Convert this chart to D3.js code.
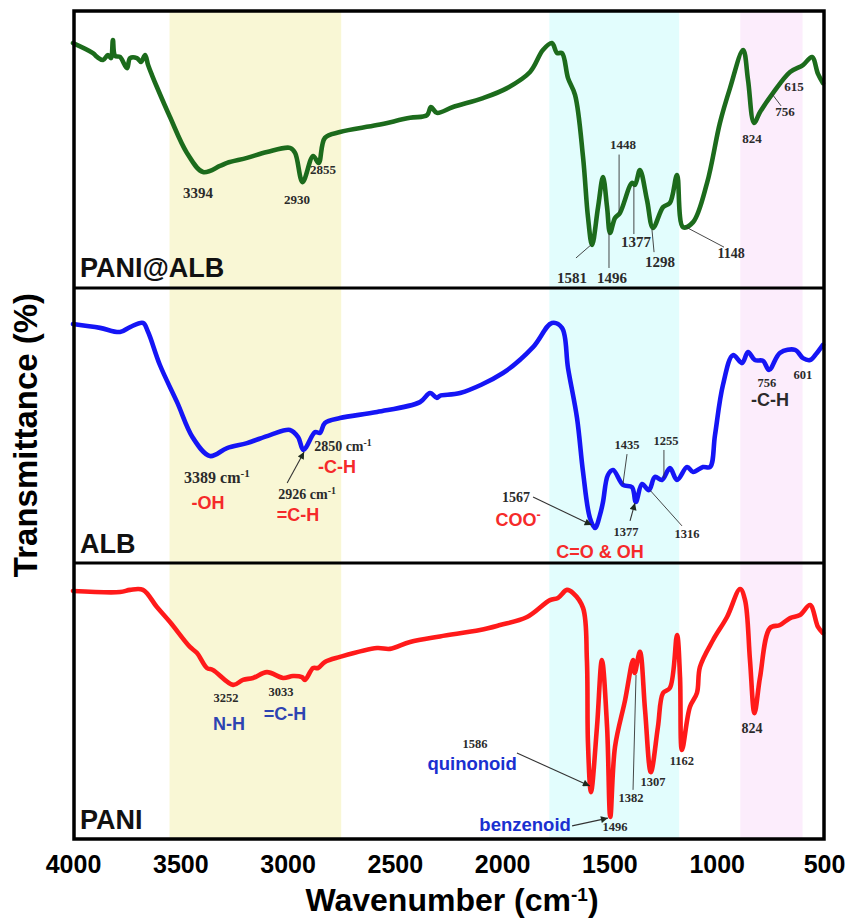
<!DOCTYPE html>
<html>
<head>
<meta charset="utf-8">
<script src="https://cdn.jsdelivr.net/npm/d3@7"></script>
<style>
  body { margin: 0; background: #fff; }
  .sans { font-family: Arial, "Liberation Sans", sans-serif; font-weight: bold; }
  .serif { font-family: "Times New Roman", "Liberation Serif", serif; font-weight: bold; fill: #2b2b2b; }
</style>
</head>
<body>
<div id="chart"></div>
<script>
// ---- data ----
const xTicks = [4000, 3500, 3000, 2500, 2000, 1500, 1000, 500];
const panelNames = ["PANI@ALB", "ALB", "PANI"];
const bandRanges = [[3550, 2750], [1780, 1175], [890, 600]];

// [wavenumber, relative transmittance]
const paniAlbData = [
  [4000, 88.1], [3907, 84.5], [3888, 83.1], [3860, 82.0], [3837, 83.8], [3823, 82.7], [3814, 89.2],
  [3804, 83.5], [3781, 83.1], [3748, 79.1], [3734, 82.7], [3702, 82.7], [3683, 81.3], [3664, 83.8],
  [3650, 80.2], [3632, 76.6], [3609, 72.3], [3548, 61.5], [3469, 48.6], [3394, 41.7], [3315, 43.9],
  [3282, 45.0], [3189, 46.8], [3096, 48.9], [2989, 50.4], [2965, 48.6], [2930, 38.1], [2881, 47.5],
  [2855, 45.0], [2826, 54.0], [2756, 56.1], [2583, 58.6], [2429, 61.2], [2350, 62.2], [2332, 65.1],
  [2304, 63.0], [2229, 65.1], [2089, 68.3], [1977, 71.9], [1870, 77.7], [1810, 85.6], [1768, 88.1],
  [1744, 84.5], [1721, 84.5], [1693, 75.5], [1660, 69.4], [1623, 47.1], [1600, 25.5], [1581, 15.5],
  [1553, 29.1], [1530, 39.9], [1511, 29.1], [1497, 19.8], [1474, 25.2], [1451, 27.0], [1395, 37.8],
  [1381, 37.1], [1358, 42.4], [1325, 31.7], [1297, 21.6], [1250, 29.1], [1218, 30.6], [1185, 40.6],
  [1157, 21.9], [1110, 23.7], [1045, 37.8], [985, 59.4], [938, 71.9], [877, 85.6], [854, 74.8],
  [826, 59.4], [798, 63.3], [738, 70.1], [658, 77.7], [598, 80.2], [556, 83.1], [528, 77.0], [505, 73.7]
];

const albData = [
  [4000, 86.9], [3874, 85.5], [3781, 84.0], [3734, 85.8], [3674, 87.3], [3650, 84.0], [3595, 72.0],
  [3515, 58.5], [3441, 45.5], [3362, 38.9], [3282, 41.8], [3189, 43.6], [3082, 46.5], [2989, 48.4],
  [2951, 45.8], [2926, 41.1], [2872, 47.6], [2849, 47.3], [2826, 50.9], [2756, 52.7], [2583, 54.9],
  [2383, 58.5], [2336, 61.8], [2304, 60.0], [2290, 60.8], [2196, 61.8], [1996, 69.1], [1856, 78.5],
  [1768, 87.3], [1721, 85.5], [1693, 70.9], [1651, 52.7], [1623, 33.1], [1591, 16.4], [1567, 12.7],
  [1544, 17.5], [1530, 22.2], [1507, 32.0], [1483, 33.8], [1437, 28.4], [1395, 27.6], [1377, 22.2],
  [1348, 28.7], [1316, 26.5], [1288, 31.3], [1255, 30.2], [1218, 34.5], [1185, 30.2], [1138, 34.9],
  [1110, 33.1], [1064, 34.9], [1031, 34.9], [1008, 46.5], [971, 64.7], [924, 75.6], [882, 72.7],
  [854, 76.7], [822, 73.8], [784, 73.5], [756, 70.2], [705, 76.4], [635, 77.5], [598, 74.5],
  [565, 73.8], [533, 76.4], [505, 79.3]
];

const paniData = [
  [4000, 89.9], [3781, 89.5], [3734, 90.3], [3674, 90.3], [3609, 84.1], [3548, 78.7], [3455, 69.7],
  [3422, 67.5], [3376, 62.1], [3348, 61.4], [3254, 56.0], [3208, 57.8], [3161, 58.5], [3096, 60.6],
  [3021, 58.5], [2975, 59.2], [2933, 58.8], [2919, 57.8], [2881, 62.1], [2858, 62.1], [2826, 64.3],
  [2756, 66.1], [2583, 69.3], [2523, 69.0], [2429, 71.5], [2290, 73.5], [2103, 75.8], [2010, 77.6],
  [1884, 80.5], [1777, 86.6], [1740, 87.4], [1698, 90.3], [1670, 89.2], [1623, 83.8], [1605, 65.0],
  [1600, 35.0], [1586, 17.3], [1558, 40.8], [1535, 65.0], [1511, 40.8], [1496, 8.3], [1474, 33.6],
  [1427, 50.5], [1390, 65.0], [1382, 60.3], [1358, 67.9], [1334, 46.9], [1307, 24.5], [1274, 40.8],
  [1250, 53.1], [1218, 54.9], [1185, 74.0], [1171, 58.8], [1162, 32.5], [1125, 48.0], [1092, 53.1],
  [1078, 62.5], [1017, 72.2], [952, 80.5], [891, 90.6], [868, 86.6], [845, 65.0], [824, 45.8],
  [798, 58.8], [752, 76.5], [705, 77.6], [658, 80.1], [612, 81.2], [565, 84.8], [528, 76.9], [505, 74.7]
];

// peak labels: text, anchor [wavenumber, value], style key
const paniAlbLabels = [
  ["3394", 3417, 32.4, "n15"], ["2930", 2956, 30.2, "n13"], ["2855", 2835, 41.0, "n13"],
  ["1448", 1437, 50.0, "n13"], ["1581", 1674, 1.8, "n15"], ["1496", 1488, 1.8, "n15"],
  ["1377", 1376, 14.7, "n15"], ["1298", 1264, 7.6, "n15"], ["1148", 933, 10.8, "n14"],
  ["824", 836, 52.2, "n13"], ["756", 682, 61.9, "n13"], ["615", 640, 70.9, "n13"]
];
const albLabels = [
  ["3389|-1", 3329, 29.1, "n16"], ["-OH", 3371, 19.6, "red"], ["2926 |-1", 2909, 23.3, "n14"],
  ["=C-H", 2951, 15.3, "red"], ["2850|-1", 2742, 40.7, "n14"], ["-C-H", 2770, 32.7, "red"],
  ["1567", 1935, 22.2, "n14"], ["COO^", 1926, 13.5, "red"], ["1435", 1418, 41.5, "n12"],
  ["1255", 1236, 42.9, "n12"], ["1377", 1423, 9.8, "n12"], ["1316", 1138, 9.1, "n12"],
  ["C=O & OH", 1544, 1.8, "red"], ["756", 766, 64.0, "n12"], ["601", 598, 66.9, "n12"],
  ["-C-H", 752, 57.1, "dark"]
];
const paniLabels = [
  ["3252", 3287, 49.8, "n12"], ["3033", 3031, 52.0, "n12"], ["N-H", 3273, 39.7, "blue"],
  ["=C-H", 3012, 43.3, "blue"], ["1586", 2127, 33.2, "n12"], ["quinonoid", 2140, 25.3, "blue2"],
  ["benzenoid", 1893, 3.2, "blue2"], ["1496", 1474, 3.2, "n12"], ["1382", 1399, 13.7, "n12"],
  ["1307", 1297, 19.5, "n12"], ["1162", 1162, 27.1, "n12"], ["824", 836, 38.6, "n14"]
];

// leader lines: [wn1, v1, wn2, v2, arrow]
const paniAlbLeaders = [
  [1455, 48.0, 1455, 27.0, false], [1656, 10.8, 1586, 15.5, false], [1502, 7.2, 1502, 19.8, false],
  [1386, 19.4, 1386, 36.7, false], [1292, 12.9, 1302, 21.2, false], [966, 14.7, 1143, 21.9, false],
  [700, 65.5, 742, 69.8, false]
];
const albLeaders = [
  [3002, 29.1, 2923, 40.4, true], [1856, 24.0, 1583, 13.8, true], [1418, 39.6, 1437, 28.7, false],
  [1246, 41.1, 1246, 30.9, false], [1404, 15.3, 1381, 21.8, true], [1162, 13.5, 1311, 26.5, false]
];
const paniLeaders = [
  [1931, 31.4, 1591, 19.5, true], [1674, 5.1, 1507, 7.9, true], [1390, 18.1, 1376, 59.6, false]
];

// ---- layout ----
const W = 846, H = 922;
const left = 73, right = 824;
const panelEdges = [10, 288, 563, 840];
const lineColors = ["#1c6b1c", "#1515f5", "#ff1a1a"];
const labelStyles = {
  n12: { cls: "serif", size: 12.5 }, n13: { cls: "serif", size: 13 }, n14: { cls: "serif", size: 14 },
  n15: { cls: "serif", size: 15 }, n16: { cls: "serif", size: 16 },
  red: { cls: "sans", size: 18, fill: "#f52a2a" }, blue: { cls: "sans", size: 18, fill: "#2e44b2" },
  blue2: { cls: "sans", size: 18.5, fill: "#1a30d0" }, dark: { cls: "sans", size: 18, fill: "#2b2b2b" }
};

const svg = d3.select("#chart").append("svg")
  .attr("width", W).attr("height", H);

const x = d3.scaleLinear().domain([4000, 500]).range([left, right]);

const defs = svg.append("defs");
defs.append("marker").attr("id", "arr")
  .attr("viewBox", "0 0 10 10").attr("refX", 10).attr("refY", 5)
  .attr("markerWidth", 9).attr("markerHeight", 7).attr("orient", "auto")
  .attr("markerUnits", "userSpaceOnUse")
  .append("path").attr("d", "M0,0L10,5L0,10z").attr("fill", "#1f2a1f");

// shaded bands across all panels
const bandColors = ["#f9f7d5", "#e2fdfd", "#fcedfc"];
svg.selectAll(".band").data(bandRanges).enter().append("rect")
  .attr("x", d => x(d[0]))
  .attr("width", d => x(d[1]) - x(d[0]))
  .attr("y", panelEdges[0]).attr("height", panelEdges[3] - panelEdges[0])
  .attr("fill", (d, i) => bandColors[i]);

const panels = [
  { data: paniAlbData, labels: paniAlbLabels, leaders: paniAlbLeaders },
  { data: albData, labels: albLabels, leaders: albLeaders },
  { data: paniData, labels: paniLabels, leaders: paniLeaders }
];

panels.forEach((p, i) => {
  const y = d3.scaleLinear().domain([0, 100]).range([panelEdges[i + 1], panelEdges[i]]);
  const g = svg.append("g");

  const line = d3.line()
    .x(d => x(d[0])).y(d => y(d[1]))
    .curve(d3.curveCatmullRom.alpha(0.5));

  g.append("path").datum(p.data)
    .attr("d", line)
    .attr("fill", "none")
    .attr("stroke", lineColors[i])
    .attr("stroke-width", 4.6)
    .attr("stroke-linejoin", "round")
    .attr("stroke-linecap", "round");

  // leaders
  g.selectAll(".ld").data(p.leaders).enter().append("line")
    .attr("x1", d => x(d[0])).attr("y1", d => y(d[1]))
    .attr("x2", d => x(d[2])).attr("y2", d => y(d[3]))
    .attr("stroke", "#333").attr("stroke-width", d => d[4] ? 1.1 : 0.9)
    .attr("marker-end", d => d[4] ? "url(#arr)" : null);

  // labels
  p.labels.forEach(l => {
    const st = labelStyles[l[3]];
    const t = g.append("text")
      .attr("class", st.cls)
      .attr("x", x(l[1])).attr("y", y(l[2]))
      .attr("text-anchor", "middle")
      .style("font-size", st.size + "px");
    if (st.fill) t.style("fill", st.fill);
    if (l[0].includes("|")) {
      const parts = l[0].split("|");
      t.append("tspan").text(parts[0] + " cm");
      t.append("tspan").attr("baseline-shift", "super").style("font-size", (st.size * 0.7) + "px").text(parts[1]);
    } else if (l[0].endsWith("^")) {
      t.append("tspan").text(l[0].slice(0, -1));
      t.append("tspan").attr("baseline-shift", "super").style("font-size", (st.size * 0.7) + "px").text("-");
    } else {
      t.text(l[0]);
    }
  });

  // panel name
  svg.append("text").attr("class", "sans")
    .attr("x", left + 7).attr("y", y(3.8))
    .style("font-size", "27px").style("fill", "#111")
    .text(panelNames[i]);
});

// frame
svg.append("rect")
  .attr("x", left + 1).attr("y", panelEdges[0] + 1)
  .attr("width", right - left - 1).attr("height", panelEdges[3] - panelEdges[0] - 2)
  .attr("fill", "none").attr("stroke", "#000").attr("stroke-width", 3.5);
svg.selectAll(".div").data([panelEdges[1], panelEdges[2]]).enter().append("line")
  .attr("x1", left).attr("x2", right + 1)
  .attr("y1", d => d).attr("y2", d => d)
  .attr("stroke", "#000").attr("stroke-width", 3.2);

// x axis
const xAxis = svg.append("g")
  .attr("transform", "translate(0," + panelEdges[3] + ")")
  .call(d3.axisBottom(x).tickValues(xTicks).tickSize(0).tickPadding(15).tickFormat(d3.format("d")));
xAxis.select(".domain").remove();
xAxis.selectAll("text")
  .attr("class", "sans")
  .style("font-size", "25px").style("fill", "#000");

// axis titles
const xt = svg.append("text").attr("class", "sans")
  .attr("x", 452).attr("y", 911).attr("text-anchor", "middle")
  .style("font-size", "32px");
xt.append("tspan").text("Wavenumber (cm");
xt.append("tspan").attr("baseline-shift", "super").style("font-size", "19px").text("-1");
xt.append("tspan").text(")");

svg.append("text").attr("class", "sans")
  .attr("transform", "translate(37,435) rotate(-90)")
  .attr("text-anchor", "middle")
  .style("font-size", "33px")
  .text("Transmittance (%)");
</script>
</body>
</html>
